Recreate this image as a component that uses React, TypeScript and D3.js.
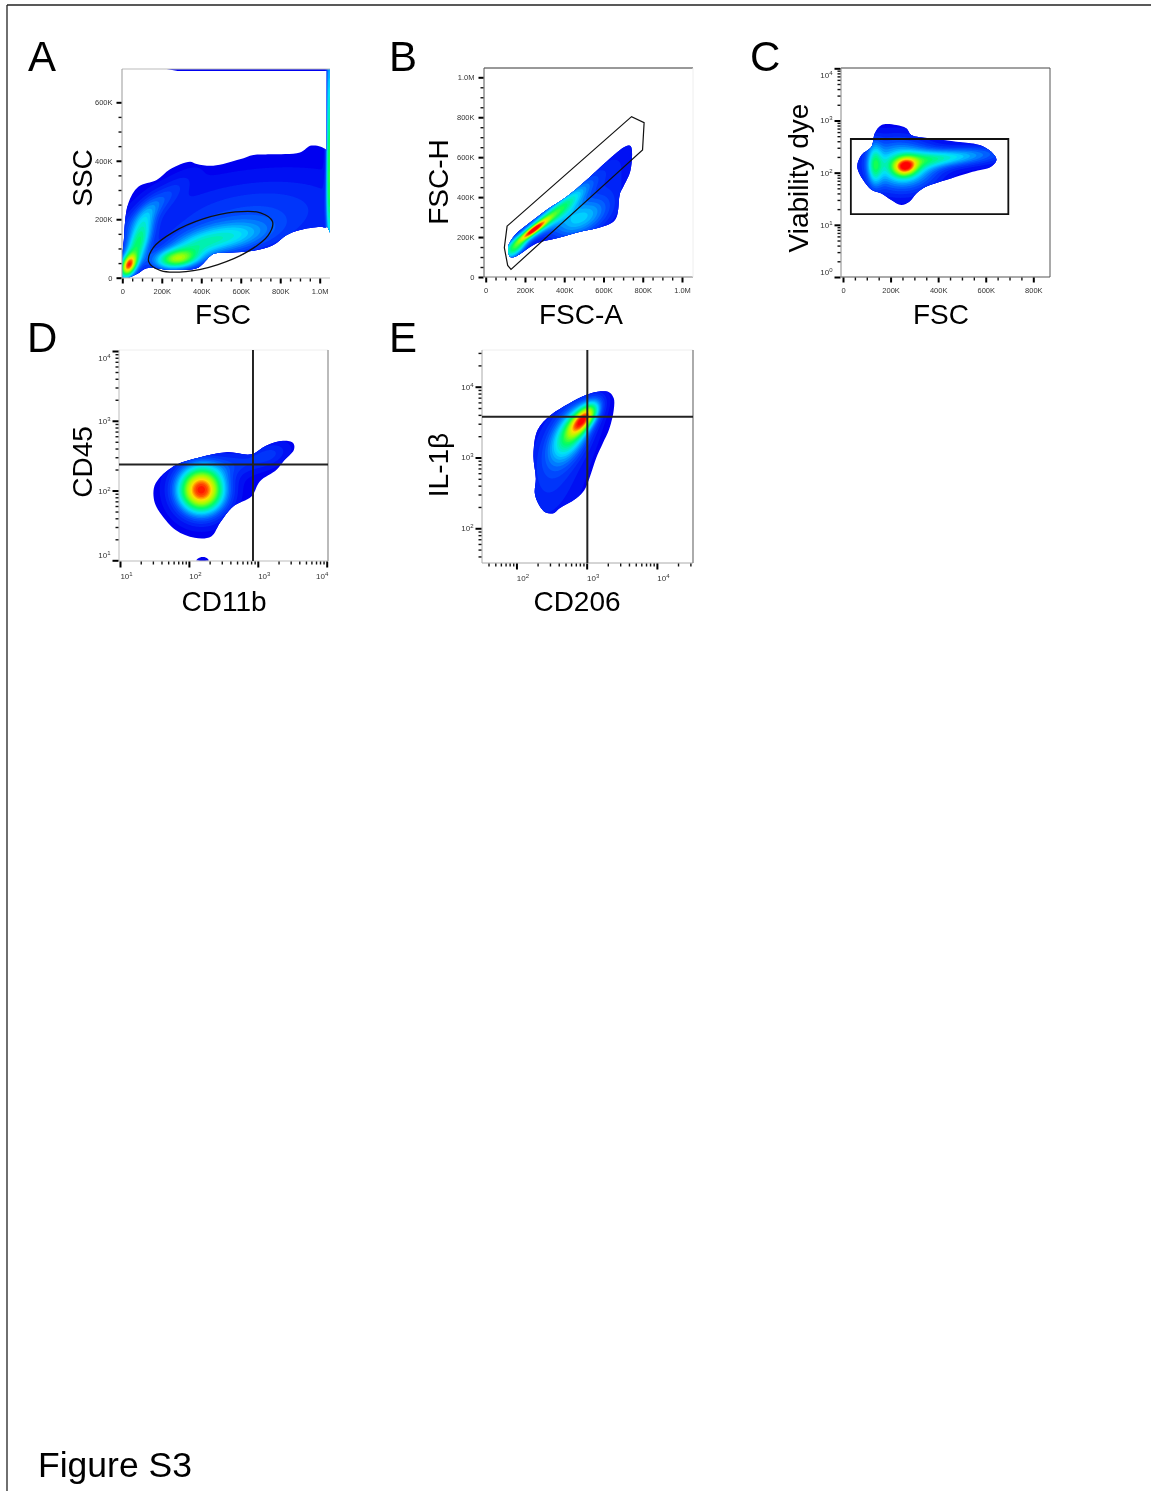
import React, { useEffect, useRef } from "react";
import * as d3 from "d3";

// tick values (linear panels are in thousands)
const linearTicks = [0, 200, 400, 600, 800, 1000];
const linearLabels = ["0", "200K", "400K", "600K", "800K", "1.0M"];
const minorLinearTicks = d3.range(0, 1050, 50).filter((d) => d % 200 !== 0);
const ssc_ticks = [0, 200, 400, 600];
const ssc_labels = ["0", "200K", "400K", "600K"];
const decades = [1, 10, 100, 1000, 10000];
const minorLogTicks = decades.flatMap((d) => [2, 3, 4, 5, 6, 7, 8, 9].map((m) => m * d));

// panel A: FSC / SSC population outline
const scatterOutline: number[][] = [
  [0, 0], [8, 129], [30, 254], [81, 311], [174, 334], [242, 371], [343, 397], [377, 389],
  [461, 383], [596, 405], [664, 420], [748, 422], [900, 428], [959, 452], [1037, 433],
  [1037, 174], [1002, 174], [900, 163], [833, 146], [765, 112], [664, 92], [546, 86],
  [461, 81], [410, 49], [377, 32], [258, 26], [123, 32], [81, 15], [30, 0],
];
const scatterRightStrip: number[][] = [[1036, 716], [1052, 716], [1052, 155], [1036, 180]];
const scatterTopStrip: number[][] = [[208, 716], [1040, 716], [1040, 707], [280, 707]];
const scatterGate: number[][] = [
  [761, 192], [738, 144], [637, 90], [485, 45], [323, 21], [195, 24],
  [134, 54], [157, 103], [258, 156], [410, 201], [572, 225], [700, 222],
];
// [x, y, x at +1 sigma, y at +1 sigma, tilt in degrees, height]
const scatterPeaks: number[][] = [
  [32, 42, 72, 58, -65, 0.72],
  [78, 115, 185, 140, -70, 0.46],
  [275, 63, 350, 85, -5, 0.48],
  [510, 135, 662, 169, -10, 0.28],
  [330, 90, 431, 121, -20, 0.2],
  [640, 210, 1004, 300, -8, 0.14],
  [150, 240, 300, 265, -40, 0.14],
  [1048, 330, 1300, 337, 90, 0.45],
  [1048, 620, 1300, 627, 90, 0.28],
];

// panel B: FSC-A / FSC-H
const singletOutline: number[][] = [
  [124, 102], [115, 152], [149, 210], [209, 260], [310, 336], [412, 402], [514, 486], [616, 578],
  [684, 636], [726, 658], [740, 653], [738, 536], [701, 452], [684, 419], [670, 311], [650, 277],
  [565, 244], [480, 227], [361, 194], [260, 169], [192, 127], [149, 102],
];
const singletGate: number[][] = [
  [109, 255], [743, 803], [807, 773], [799, 636], [129, 38], [112, 58], [95, 147],
];
const singletPeaks: number[][] = [
  [243, 235, 300, 246, -37, 0.62],
  [260, 250, 402, 275, -38, 0.42],
  [150, 140, 200, 165, -45, 0.35],
  [465, 290, 577, 345, -25, 0.28],
  [420, 380, 547, 410, -42, 0.24],
  [600, 420, 829, 500, -60, 0.08],
];

// panel C: FSC / viability dye
const viabilityOutline: number[][] = [
  [60, 130], [78, 218], [120, 315], [134, 568], [162, 820], [224, 820], [266, 708], [287, 527],
  [364, 455], [475, 393], [573, 339], [622, 253], [645, 175], [622, 130], [545, 104], [433, 72],
  [350, 54], [308, 40], [280, 28], [245, 24], [203, 30], [162, 40], [120, 47], [85, 72],
];
const viabilityGate: number[][] = [[33, 442], [695, 442], [695, 16], [33, 16]];
const viabilityPeaks: number[][] = [
  [262, 130, 296, 170, -10, 0.58],
  [255, 118, 350, 230, -5, 0.4],
  [134, 140, 155, 260, 0, 0.32],
  [400, 188, 526, 245, -5, 0.27],
  [560, 210, 707, 290, -5, 0.12],
  [200, 300, 300, 500, 0, 0.1],
];

// panel D: CD11b / CD45
const cd45Outline: number[][] = [
  [31, 108], [37, 150], [65, 233], [143, 298], [350, 355], [809, 331], [1337, 443], [2339, 516],
  [3273, 478], [3345, 384], [2339, 261], [1871, 198], [1069, 135], [809, 82], [438, 59], [280, 34],
  [211, 22], [121, 21], [65, 27], [40, 45], [32, 66],
];
const cd45Speck: number[][] = [[128, 10], [145, 11], [175, 11], [195, 10]];
const cd45Gate = { x: 851, y: 236 };
const cd45Peaks: number[][] = [
  [151, 102, 255, 172, 0, 1],
  [450, 240, 880, 330, -10, 0.1],
  [1500, 330, 2400, 430, -20, 0.1],
];

// panel E: CD206 / IL-1beta
const il1Outline: number[][] = [
  [175, 1079], [200, 2437], [309, 3980], [565, 5806], [978, 7620], [1435, 8490], [2108, 8310],
  [2431, 6843], [2431, 4677], [2108, 2570], [1693, 1578], [1359, 968], [1091, 505], [926, 345],
  [705, 263], [407, 190], [345, 165], [262, 167], [211, 211], [183, 309], [189, 505],
];
const il1Gate = { x: 1022, y: 3760 };
const il1Peaks: number[][] = [
  [926, 3565, 1420, 4342, -50, 0.72],
  [600, 2200, 1164, 3100, -60, 0.45],
  [350, 800, 1540, 1544, -75, 0.12],
];

const sans = "'Liberation Sans', Arial, sans-serif";

const density = d3
  .scaleLinear<string>()
  .domain([0, 0.15, 0.33, 0.5, 0.67, 0.8, 0.9, 1])
  .range(["#0000f0", "#0050ff", "#00e0ff", "#00ff60", "#a0ff00", "#ffe000", "#ff6000", "#ff0000"])
  .clamp(true);

type Frame = { left: string; right: string; top: string; bottom: string; rightWidth?: number };

type PanelProps = {
  id: string;
  box: { left: number; right: number; top: number; bottom: number };
  x: any;
  y: any;
  xLog?: boolean;
  yLog?: boolean;
  xTicks?: number[];
  yTicks?: number[];
  xLabels?: string[];
  yLabels?: string[];
  outlines: number[][][];
  straightOutlines?: number[][][];
  peaks: number[][];
  frame: Frame;
  gate?: number[][];
  gateCurve?: boolean;
  gateWidth?: number;
  cross?: { x: number; y: number };
};

function supLabel(sel: any, exp: number) {
  sel.text(null);
  sel.append("tspan").text("10");
  sel.append("tspan").attr("dy", -3).attr("font-size", 6).text(exp);
}

function Axis({ orient, scale, log, ticks, labels, box }: any) {
  const ref = useRef<SVGGElement>(null);
  useEffect(() => {
    const g = d3.select(ref.current);
    g.selectAll("*").remove();
    const make = () => (orient === "x" ? d3.axisBottom(scale) : d3.axisLeft(scale));
    const [lo, hi] = d3.extent(scale.domain()) as number[];
    const major = log ? decades.filter((d) => d >= lo && d <= hi) : ticks;
    const minor = (log ? minorLogTicks : minorLinearTicks).filter((d) => d >= lo && d <= hi);

    const minorG = g.append("g").call(make().tickValues(minor).tickSize(3).tickFormat(() => "") as any);
    minorG.selectAll("line").attr("stroke", "#111").attr("stroke-width", 1.4);

    const majorG = g.append("g").call(make().tickValues(major).tickSize(log ? 6 : 5) as any);
    majorG.selectAll("line").attr("stroke", "#000").attr("stroke-width", 2);
    g.selectAll(".domain").remove();

    const text = majorG
      .selectAll("text")
      .attr("font-family", sans)
      .attr("font-size", log ? 8 : 7.5)
      .attr("fill", "#333");

    text.each(function (d: any, i: number) {
      const t = d3.select(this);
      const pos = scale(d);
      if (orient === "x") {
        t.attr("y", log ? 17 : 15).attr("dy", 0);
        if (log) {
          const nudge = pos > box.right - 8 ? -5 : 6;
          t.attr("x", nudge);
          supLabel(t, Math.round(Math.log10(d)));
        } else {
          t.text(labels[i]);
        }
      } else {
        t.attr("x", log ? -8 : -9).attr("dy", 0);
        if (log) {
          const nudge = pos < box.top + 10 ? 9 : pos > box.bottom - 6 ? -3 : 2.5;
          t.attr("y", nudge);
          supLabel(t, Math.round(Math.log10(d)));
        } else {
          t.attr("y", 2.5).text(labels[i]);
        }
      }
    });
  }, [orient, scale, log, ticks, labels, box]);
  const tf = orient === "x" ? `translate(0,${box.bottom + 0.5})` : `translate(${box.left - 0.5},0)`;
  return <g ref={ref} transform={tf} />;
}

function Panel(p: PanelProps) {
  const { box, x, y } = p;
  const w = Math.round(box.right - box.left);
  const h = Math.round(box.bottom - box.top);

  // peaks read in data units, turned into pixel gaussians
  const blobs = p.peaks.map(([cx, cy, ex, ey, tilt, level]) => {
    const a = (tilt * Math.PI) / 180;
    return {
      px: x(cx) - box.left,
      py: y(cy) - box.top,
      su: Math.abs(x(ex) - x(cx)),
      sv: Math.abs(y(ey) - y(cy)),
      cos: Math.cos(a),
      sin: Math.sin(a),
      level,
    };
  });
  const field = new Float64Array(w * h);
  for (let j = 0; j < h; j++) {
    for (let i = 0; i < w; i++) {
      let v = 0;
      for (const b of blobs) {
        const dx = i + 0.5 - b.px;
        const dy = j + 0.5 - b.py;
        const u = (dx * b.cos + dy * b.sin) / b.su;
        const t = (-dx * b.sin + dy * b.cos) / b.sv;
        v += b.level * Math.exp(-0.5 * (u * u + t * t));
      }
      field[j * w + i] = v;
    }
  }
  const bands = d3.contours().size([w, h]).thresholds(d3.range(0.03, 1.02, 0.035))(field as any);
  const path = d3.geoPath();

  const smooth = d3
    .line()
    .x((d) => x(d[0]))
    .y((d) => y(d[1]))
    .curve(d3.curveCatmullRomClosed.alpha(0.5));
  const sharp = d3
    .line()
    .x((d) => x(d[0]))
    .y((d) => y(d[1]))
    .curve(d3.curveLinearClosed);

  const clipD = [
    ...p.outlines.map((o) => smooth(o as any)),
    ...(p.straightOutlines || []).map((o) => sharp(o as any)),
  ].join(" ");

  return (
    <g>
      <clipPath id={`pop-${p.id}`}>
        <path d={clipD} />
      </clipPath>
      <clipPath id={`box-${p.id}`}>
        <rect x={box.left} y={box.top} width={w} height={h} />
      </clipPath>
      <g clipPath={`url(#box-${p.id})`}>
        <g clipPath={`url(#pop-${p.id})`}>
          <rect x={box.left} y={box.top} width={w} height={h} fill={density(0)} />
          <g transform={`translate(${box.left},${box.top})`}>
            {bands.map((b, i) => (
              <path key={i} d={path(b as any) || ""} fill={density(b.value)} />
            ))}
          </g>
        </g>
      </g>
      <line x1={box.left} x2={box.right} y1={box.top} y2={box.top} stroke={p.frame.top} />
      <line x1={box.left} x2={box.right} y1={box.bottom} y2={box.bottom} stroke={p.frame.bottom} />
      <line x1={box.left} x2={box.left} y1={box.top} y2={box.bottom} stroke={p.frame.left} />
      <line
        x1={box.right}
        x2={box.right}
        y1={box.top}
        y2={box.bottom}
        stroke={p.frame.right}
        strokeWidth={p.frame.rightWidth || 1}
      />
      {p.gate && (
        <path
          d={(p.gateCurve ? smooth : sharp)(p.gate as any) || ""}
          fill="none"
          stroke="#111"
          strokeWidth={p.gateWidth || 1.2}
        />
      )}
      {p.cross && (
        <g stroke="#222" strokeWidth={2}>
          <line x1={x(p.cross.x)} x2={x(p.cross.x)} y1={box.top} y2={box.bottom} />
          <line x1={box.left} x2={box.right} y1={y(p.cross.y)} y2={y(p.cross.y)} />
        </g>
      )}
      <Axis orient="x" scale={x} log={p.xLog} ticks={p.xTicks} labels={p.xLabels} box={box} />
      <Axis orient="y" scale={y} log={p.yLog} ticks={p.yTicks} labels={p.yLabels} box={box} />
    </g>
  );
}

function Title({ x, y, text, rotate }: { x: number; y: number; text: string; rotate?: boolean }) {
  return (
    <text
      x={rotate ? 0 : x}
      y={rotate ? 0 : y}
      transform={rotate ? `translate(${x},${y}) rotate(-90)` : undefined}
      textAnchor="middle"
      fontFamily={sans}
      fontSize={28}
      fill="#000"
    >
      {text}
    </text>
  );
}

function Letter({ x, y, text }: { x: number; y: number; text: string }) {
  return (
    <text x={x} y={y} fontFamily={sans} fontSize={42} fill="#000">
      {text}
    </text>
  );
}

const boxA = { left: 122, right: 330, top: 69, bottom: 278 };
const boxB = { left: 484, right: 693, top: 68, bottom: 277 };
const boxC = { left: 841, right: 1050, top: 68, bottom: 277 };
const boxD = { left: 119, right: 328, top: 350, bottom: 561 };
const boxE = { left: 482, right: 693, top: 350, bottom: 563 };

const scaleA = {
  x: d3.scaleLinear().domain([0, 1000]).range([122.3, 319.7]),
  y: d3.scaleLinear().domain([0, 600]).range([277.7, 102.3]),
};
const scaleB = {
  x: d3.scaleLinear().domain([0, 1000]).range([485.7, 682]),
  y: d3.scaleLinear().domain([0, 1000]).range([277, 77.3]),
};
const scaleC = {
  x: d3.scaleLinear().domain([0, 800]).range([843, 1033.3]),
  y: d3.scaleLog().domain([1, 10000]).range([277, 68.3]),
};
const scaleD = {
  x: d3.scaleLog().domain([10, 10000]).range([120, 326.7]),
  y: d3.scaleLog().domain([10, 10000]).range([560.3, 351]),
};
const scaleE = {
  x: d3.scaleLog().domain([32, 33000]).range([481.7, 693.3]),
  y: d3.scaleLog().domain([32, 33000]).range([563.3, 350]),
};

export default function App() {
  return (
    <svg
      width={1151}
      height={1491}
      style={{ position: "absolute", left: 0, top: 0, display: "block", filter: "blur(0.5px)" }}
    >
      <rect width={1151} height={1491} fill="#fff" />
      <line x1={7} x2={7} y1={5} y2={1491} stroke="#222" strokeWidth={1.3} />
      <line x1={7} x2={1151} y1={5} y2={5} stroke="#222" strokeWidth={1.3} />

      <Letter x={28} y={71} text="A" />
      <Letter x={389} y={71} text="B" />
      <Letter x={750} y={71} text="C" />
      <Letter x={27} y={352} text="D" />
      <Letter x={389} y={352} text="E" />

      <Panel
        id="a"
        box={boxA}
        x={scaleA.x}
        y={scaleA.y}
        xTicks={linearTicks}
        xLabels={linearLabels}
        yTicks={ssc_ticks}
        yLabels={ssc_labels}
        outlines={[scatterOutline]}
        straightOutlines={[scatterRightStrip, scatterTopStrip]}
        peaks={scatterPeaks}
        frame={{ left: "#999", right: "none", top: "#bbb", bottom: "#bbb" }}
        gate={scatterGate}
        gateCurve
        gateWidth={1.3}
      />
      <Panel
        id="b"
        box={boxB}
        x={scaleB.x}
        y={scaleB.y}
        xTicks={linearTicks}
        xLabels={linearLabels}
        yTicks={linearTicks}
        yLabels={linearLabels}
        outlines={[singletOutline]}
        peaks={singletPeaks}
        frame={{ left: "#555", right: "#eee", top: "#333", bottom: "#777" }}
        gate={singletGate}
      />
      <Panel
        id="c"
        box={boxC}
        x={scaleC.x}
        y={scaleC.y}
        yLog
        xTicks={linearTicks.slice(0, 5)}
        xLabels={linearLabels.slice(0, 5)}
        outlines={[viabilityOutline]}
        peaks={viabilityPeaks}
        frame={{ left: "#888", right: "#555", top: "#444", bottom: "#555" }}
        gate={viabilityGate}
        gateWidth={1.8}
      />
      <Panel
        id="d"
        box={boxD}
        x={scaleD.x}
        y={scaleD.y}
        xLog
        yLog
        outlines={[cd45Outline, cd45Speck]}
        peaks={cd45Peaks}
        frame={{ left: "#bbb", right: "#aaa", top: "#eee", bottom: "#bbb", rightWidth: 1.6 }}
        cross={cd45Gate}
      />
      <Panel
        id="e"
        box={boxE}
        x={scaleE.x}
        y={scaleE.y}
        xLog
        yLog
        outlines={[il1Outline]}
        peaks={il1Peaks}
        frame={{ left: "#aaa", right: "#888", top: "#eee", bottom: "#aaa", rightWidth: 1.4 }}
        cross={il1Gate}
      />

      <Title x={223} y={324} text="FSC" />
      <Title x={92} y={178} text="SSC" rotate />
      <Title x={581} y={324} text="FSC-A" />
      <Title x={448} y={182} text="FSC-H" rotate />
      <Title x={941} y={324} text="FSC" />
      <Title x={808} y={178} text="Viability dye" rotate />
      <Title x={224} y={611} text="CD11b" />
      <Title x={92} y={462} text="CD45" rotate />
      <Title x={577} y={611} text="CD206" />
      <Title x={448} y={465} text="IL-1β" rotate />

      <text x={38} y={1477} fontFamily={sans} fontSize={35.5} fill="#000">
        Figure S3
      </text>
    </svg>
  );
}
